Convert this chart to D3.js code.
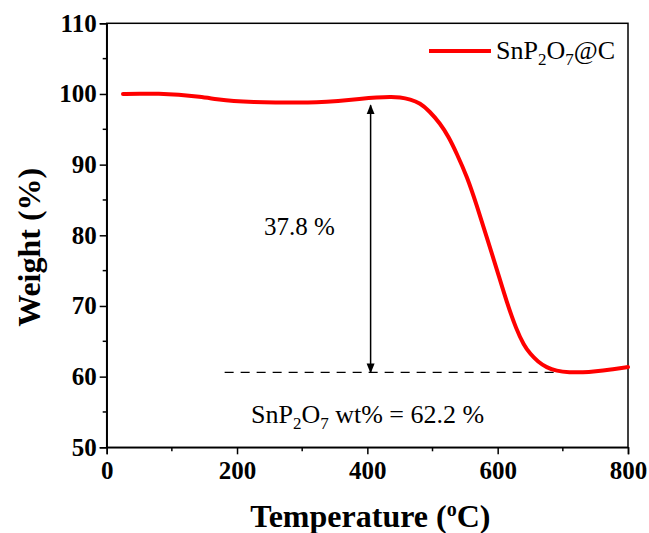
<!DOCTYPE html>
<html>
<head>
<meta charset="utf-8">
<script src="https://cdn.jsdelivr.net/npm/d3@7"></script>
<style>
  html, body { margin: 0; padding: 0; background: #fff; }
  svg { display: block; font-family: "Liberation Serif", "Times New Roman", serif; }
</style>
</head>
<body>
<svg id="chart" width="649" height="533"></svg>
<script>
// TGA curve of SnP2O7@C (temperature in °C, weight in %)
const temperature = [25, 50, 80, 110, 143, 170, 194, 225, 260, 290, 322, 355, 389, 415, 435, 450, 466, 481, 495, 512, 525, 537, 553, 568, 583, 599, 614, 629, 640, 650, 662, 675, 690, 710, 731, 750, 773, 800];
const weight = [100.0, 100.05, 100.05, 99.9, 99.6, 99.25, 99.0, 98.85, 98.8, 98.8, 98.8, 99.0, 99.3, 99.5, 99.6, 99.55, 99.25, 98.7, 97.6, 95.8, 93.9, 91.6, 88.3, 84.2, 79.8, 75.1, 70.5, 66.6, 64.5, 63.2, 62.1, 61.3, 60.8, 60.6, 60.6, 60.75, 61.0, 61.35];

const xTicks = [0, 200, 400, 600, 800];
const yTicks = [50, 60, 70, 80, 90, 100, 110];
const xMinor = [100, 300, 500, 700];
const yMinor = [55, 65, 75, 85, 95, 105];

// Weight-loss annotation
const lossTemp = 405;       // x position of the double arrow
const lossTop = 98.4;
const lossAmount = 37.8;    // % weight loss
const residueLevel = lossTop - lossAmount;
const dashRange = [181, 698];
const residueText = "62.2";

const svg = d3.select("#chart");
const m = { left: 106.7, top: 23.3, right: 649 - 628, bottom: 533 - 447.3 };
const W = 649 - m.left - m.right, H = 533 - m.top - m.bottom;

const x = d3.scaleLinear().domain([0, 800]).range([0, W]);
const y = d3.scaleLinear().domain([50, 110]).range([H, 0]);

const g = svg.append("g").attr("transform", `translate(${m.left},${m.top})`);

// frame
g.append("rect").attr("x", 0).attr("y", 0).attr("width", W).attr("height", H)
  .attr("fill", "none").attr("stroke", "#000").attr("stroke-width", 1.5);

// axes
const xAxis = g.append("g").attr("transform", `translate(0,${H})`)
  .call(d3.axisBottom(x).tickValues(xTicks).tickSize(7).tickPadding(6).tickFormat(d3.format("d")));
const yAxis = g.append("g")
  .call(d3.axisLeft(y).tickValues(yTicks).tickSize(7).tickPadding(3).tickFormat(d3.format("d")));
[xAxis, yAxis].forEach(a => {
  a.select(".domain").attr("stroke-width", 1.5);
  a.selectAll(".tick line").attr("stroke-width", 1.5);
  a.selectAll("text").attr("font-family", "Liberation Serif").attr("font-weight", "bold")
    .attr("font-size", 25).attr("fill", "#000");
});
xAxis.selectAll("text").attr("dy", "0.75em");

// minor ticks
g.append("g").selectAll("line").data(xMinor).join("line")
  .attr("x1", d => x(d)).attr("x2", d => x(d)).attr("y1", H).attr("y2", H + 4)
  .attr("stroke", "#000").attr("stroke-width", 1.5);
g.append("g").selectAll("line").data(yMinor).join("line")
  .attr("x1", 0).attr("x2", -4).attr("y1", d => y(d)).attr("y2", d => y(d))
  .attr("stroke", "#000").attr("stroke-width", 1.5);

// axis titles
svg.append("text").attr("x", m.left + W / 2 + 3).attr("y", 527).attr("text-anchor", "middle")
  .attr("font-weight", "bold").attr("font-size", 32)
  .html('Temperature (<tspan baseline-shift="super" font-size="20">o</tspan>C)');
svg.append("text").attr("transform", `translate(40,${m.top + H / 2 + 12}) rotate(-90)`)
  .attr("text-anchor", "middle").attr("font-weight", "bold").attr("font-size", 32)
  .text("Weight (%)");

// dashed residue line
g.append("line").attr("x1", x(dashRange[0])).attr("x2", x(dashRange[1]))
  .attr("y1", y(residueLevel)).attr("y2", y(residueLevel))
  .attr("stroke", "#000").attr("stroke-width", 1.3).attr("stroke-dasharray", "9,7");

// double arrow
const defs = svg.append("defs");
defs.append("marker").attr("id", "ah").attr("viewBox", "0 0 10 10").attr("refX", 9).attr("refY", 5)
  .attr("markerWidth", 10).attr("markerHeight", 10).attr("markerUnits", "userSpaceOnUse")
  .attr("orient", "auto-start-reverse")
  .append("path").attr("d", "M0,1 L10,5 L0,9 Z").attr("fill", "#000");
g.append("line").attr("x1", x(lossTemp)).attr("x2", x(lossTemp))
  .attr("y1", y(lossTop)).attr("y2", y(residueLevel))
  .attr("stroke", "#000").attr("stroke-width", 1.5)
  .attr("marker-start", "url(#ah)").attr("marker-end", "url(#ah)");

// curve
const line = d3.line().x((d, i) => x(temperature[i])).y(d => y(d)).curve(d3.curveBasis);
g.append("path").datum(weight).attr("d", line)
  .attr("fill", "none").attr("stroke", "#ff0000").attr("stroke-width", 4)
  .attr("stroke-linecap", "round").attr("stroke-linejoin", "round");

// annotations
svg.append("text").attr("x", 264).attr("y", 235).attr("font-size", 25)
  .text(`${lossAmount} %`);
svg.append("text").attr("x", 251).attr("y", 423).attr("font-size", 26)
  .html(`SnP<tspan dy="6" font-size="17">2</tspan><tspan dy="-6">O</tspan><tspan dy="6" font-size="17">7</tspan><tspan dy="-6"> wt% = ${residueText} %</tspan>`);

// legend
svg.append("line").attr("x1", 429).attr("x2", 491).attr("y1", 51).attr("y2", 51)
  .attr("stroke", "#ff0000").attr("stroke-width", 4);
svg.append("text").attr("x", 496).attr("y", 59).attr("font-size", 26)
  .html('SnP<tspan dy="6" font-size="17">2</tspan><tspan dy="-6">O</tspan><tspan dy="6" font-size="17">7</tspan><tspan dy="-6">@C</tspan>');
</script>
</body>
</html>
